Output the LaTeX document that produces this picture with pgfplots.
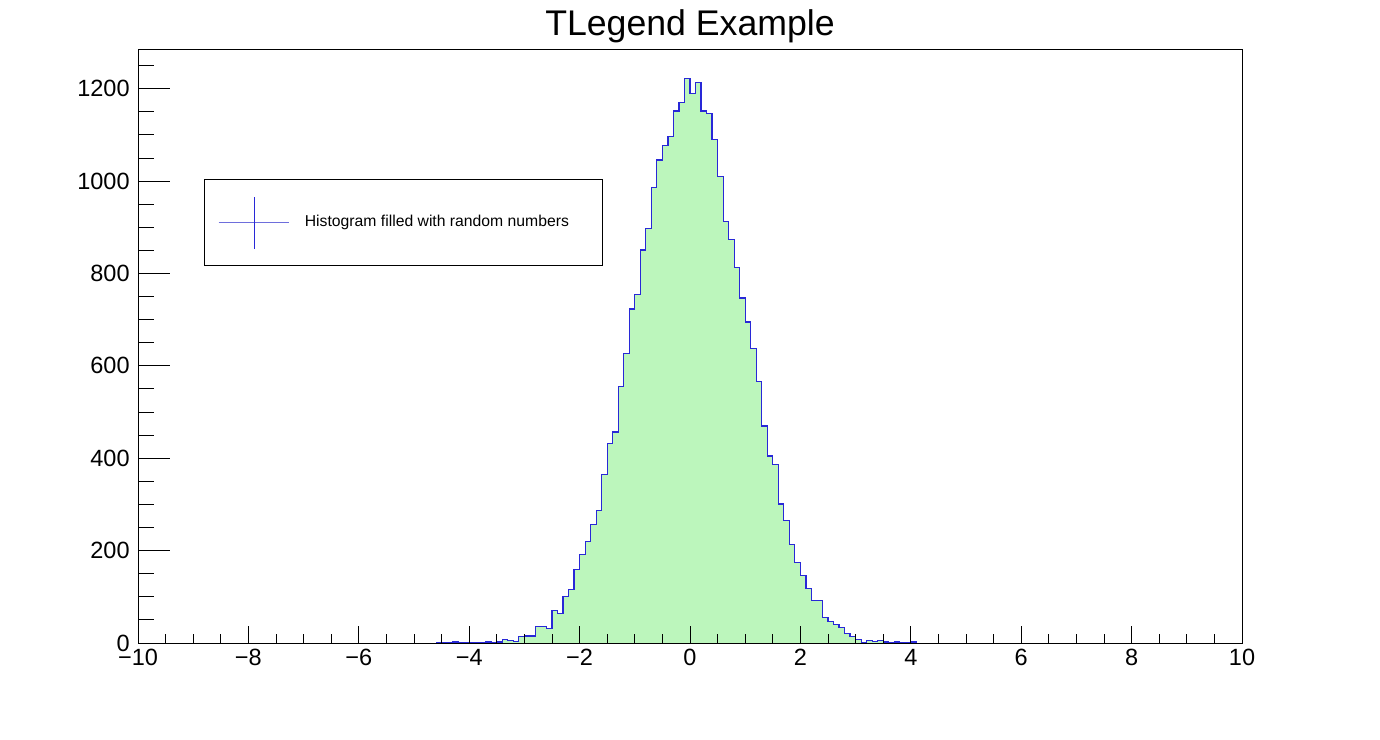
\documentclass[border=0pt]{standalone}
\usepackage{pgfplots}
\pgfplotsset{compat=1.18}
\usepackage{pgfplotstable}
\usepackage{fontspec}
\setmainfont{Liberation Sans}
\definecolor{histfill}{RGB}{188,246,188}
\definecolor{histline}{RGB}{40,40,215}
\definecolor{legline}{RGB}{110,110,220}

\pgfplotstableread{
x y
-4.6 0
-4.5 1
-4.4 0
-4.3 2
-4.2 0
-4.1 0
-4.0 0
-3.9 0
-3.8 0
-3.7 2
-3.6 0
-3.5 2
-3.4 7
-3.3 5
-3.2 4
-3.1 14
-3.0 15
-2.9 15
-2.8 36
-2.7 36
-2.6 32
-2.5 70
-2.4 64
-2.3 100
-2.2 115
-2.1 160
-2.0 191
-1.9 220
-1.8 256
-1.7 287
-1.6 365
-1.5 432
-1.4 457
-1.3 555
-1.2 626
-1.1 723
-1.0 755
-0.9 851
-0.8 897
-0.7 987
-0.6 1046
-0.5 1077
-0.4 1097
-0.3 1152
-0.2 1170
-0.1 1223
0.0 1189
0.1 1214
0.2 1152
0.3 1146
0.4 1091
0.5 1010
0.6 912
0.7 873
0.8 813
0.9 747
1.0 695
1.1 637
1.2 567
1.3 470
1.4 405
1.5 386
1.6 301
1.7 265
1.8 214
1.9 175
2.0 147
2.1 118
2.2 92
2.3 92
2.4 55
2.5 47
2.6 40
2.7 33
2.8 20
2.9 14
3.0 8
3.1 1
3.2 5
3.3 3
3.4 5
3.5 2
3.6 1
3.7 2
3.8 0
3.9 0
4.0 2
4.1 0
}\histdata

\begin{document}
\begin{tikzpicture}
\pgfplotsset{
  common/.style={
    scale only axis, width=552bp, height=296.5bp,
    xmin=-10, xmax=10, ymin=0, ymax=1284,
    axis on top, tick align=inside,
    axis line style={line width=0.5bp},
    every tick/.style={black, line width=0.5bp},
    tick label style={font=\fontsize{11.8}{14}\selectfont},
    /pgf/number format/assume math mode=true,
    /pgf/number format/1000 sep={},
  }
}
\begin{axis}[common, name=ax,
  xtick={-10,-8,...,10},
  xticklabels={−10,−8,−6,−4,−2,0,2,4,6,8,10},
  minor xtick={-9.5,-9,...,9.5},
  xtick pos=bottom,
  ytick=\empty,
  major tick length=8.5bp, minor tick length=4.5bp,
  xticklabel style={anchor=north, inner sep=0pt, yshift=-3bp},
  legend cell align=left,
  legend style={at={(0.0598,0.782)}, anchor=north west, draw=black, line width=0.5bp,
    fill=white, inner xsep=6.85bp, inner ysep=8.25bp, column sep=7.5bp,
    nodes={inner sep=0pt, font=\fontsize{7.9}{9.5}\selectfont}},
  legend image code/.code={
    \draw[line width=0.5bp, legline] (0bp,0bp) -- (35.3bp,0bp);
    \draw[line width=0.5bp, histline] (17.65bp,-13bp) -- (17.65bp,13bp);
  },
  clip=false,
]
\addplot[draw=none, fill=histfill, const plot, forget plot] table {\histdata} \closedcycle;
\addplot[histline, line width=0.6bp, const plot] table {\histdata};
\addlegendentry{Histogram filled with random numbers\hspace*{10bp}}
\node[anchor=base, inner sep=0pt, font=\fontsize{17.9}{20}\selectfont] at ([yshift=7bp]rel axis cs:0.5,1) {TLegend Example};
\end{axis}
\begin{axis}[common, at={(ax.south west)}, anchor=south west,
  xtick=\empty,
  ytick={0,200,...,1200},
  minor ytick={50,100,...,1250},
  ytick pos=left,
  major tick length=16bp, minor tick length=8bp,
  yticklabel style={anchor=east, inner sep=0pt, xshift=-4bp},
]
\end{axis}
\pgfresetboundingbox
\useasboundingbox (ax.south west) ++(-69bp,-48.5bp) rectangle ++(690bp,370bp);
\end{tikzpicture}
\end{document}
